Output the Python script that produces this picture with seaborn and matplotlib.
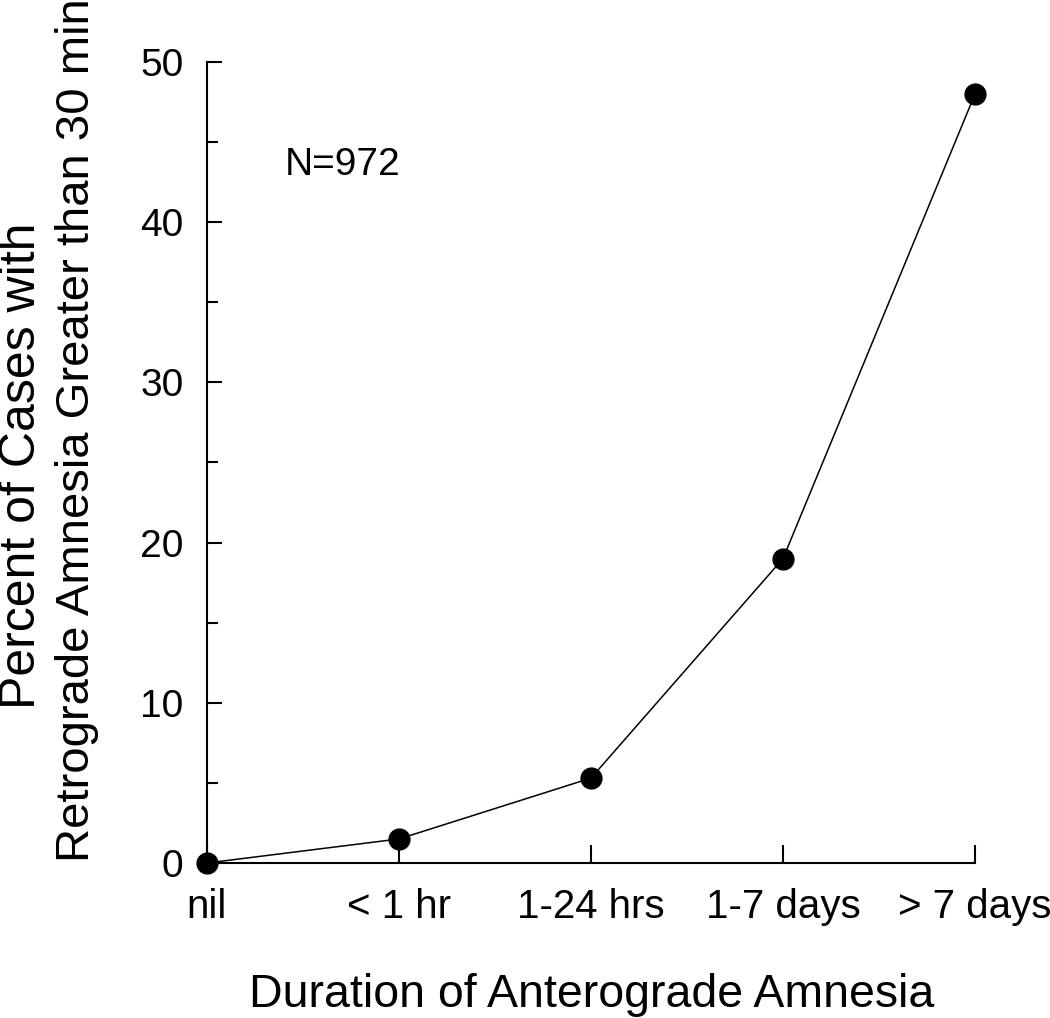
import matplotlib
matplotlib.use('Agg')
import matplotlib.pyplot as plt
import seaborn as sns
import pandas as pd

# data
durations = ['nil', '< 1 hr', '1-24 hrs', '1-7 days', '> 7 days']
percent = [0, 1.5, 5.3, 19, 48]
yticks = [0, 10, 20, 30, 40, 50]
yticks_minor = [5, 15, 25, 35, 45]

df = pd.DataFrame({'Duration': durations, 'Percent': percent})

sns.set_style('white')
plt.rcParams['font.family'] = ['Liberation Sans', 'DejaVu Sans']
plt.rcParams['text.color'] = 'black'

fig = plt.figure(figsize=(10.5, 10.18), dpi=100)
ax = fig.add_axes([207/1050, 1 - 863/1018, (975-207)/1050, (863-62)/1018])

ax = sns.lineplot(data=df, x='Duration', y='Percent', sort=False, marker='o',
                  color='black', lw=1.1, markersize=16, markeredgewidth=0, ax=ax)
for ln in ax.lines:
    ln.set_clip_on(False)

ax.set_xlim(0, 4)
ax.set_ylim(0, 50)
ax.set_yticks(yticks)
ax.set_yticks(yticks_minor, minor=True)
ax.set_xticks(range(len(durations)))
ax.set_xticklabels(durations)

sns.despine(ax=ax)
for s in ['left', 'bottom']:
    ax.spines[s].set_linewidth(1.5)
    ax.spines[s].set_color('black')
ax.tick_params(which='both', direction='in', width=1.5, color='black',
               labelcolor='black', left=True, bottom=True)
ax.tick_params(axis='y', which='major', length=11, labelsize=28, pad=17)
ax.tick_params(axis='y', which='minor', length=8)
ax.tick_params(axis='x', which='major', length=13, labelsize=29, pad=18)

ax.set_xlabel('')
ax.set_ylabel('')
fig.text(592/1050, 1 - 1007/1018, 'Duration of Anterograde Amnesia', fontsize=33.5,
         ha='center', va='baseline')
fig.text(22/1050, 1 - 466/1018, 'Percent of Cases with', fontsize=36,
         rotation=90, ha='center', va='center')
fig.text(77/1050, 1 - 862/1018, 'Retrograde Amnesia Greater than 30 min', fontsize=34,
         rotation=90, ha='center', va='bottom')

ax.text(0.406, 43.6, 'N=972', fontsize=28, ha='left', va='center')

fig.savefig('out.png', dpi=100)
